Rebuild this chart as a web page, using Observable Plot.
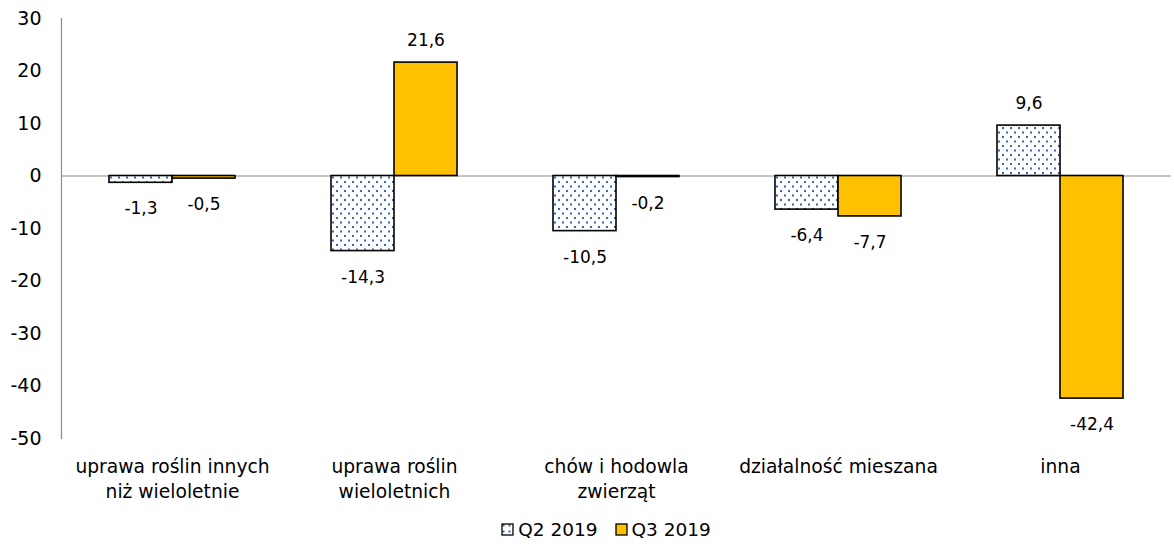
<!DOCTYPE html>
<html>
<head>
<meta charset="utf-8">
<script src="https://cdn.jsdelivr.net/npm/d3@7"></script>
<script src="https://cdn.jsdelivr.net/npm/@observablehq/plot@0.6"></script>
<style>
  body { margin: 0; background: #fff; font-family: Tahoma, "DejaVu Sans", sans-serif; }
  #legend { display: flex; justify-content: center; align-items: center; gap: 17px; font-size: 18.5px; height: 30px; color: #000; padding-left: 38px; box-sizing: border-box; width: 1174px; }
  #legend .item { display: flex; align-items: center; gap: 4px; }
</style>
</head>
<body>
<svg width="0" height="0" style="position:absolute">
  <defs>
    <pattern id="dots" width="8" height="9" patternUnits="userSpaceOnUse">
      <rect width="8" height="9" fill="#fff"/>
      <rect x="1" y="1" width="2" height="2" fill="#3a66b0"/>
      <rect x="5" y="5.5" width="2" height="2" fill="#3a66b0"/>
    </pattern>
    <pattern id="dotsSmall" width="6" height="6" patternUnits="userSpaceOnUse">
      <rect width="6" height="6" fill="#fff"/>
      <rect x="1.5" y="1.5" width="2" height="2" fill="#3a66b0"/>
    </pattern>
  </defs>
</svg>
<div id="chart"></div>
<div id="legend"></div>
<script>
const categories = [
  "uprawa roślin innych\nniż wieloletnie",
  "uprawa roślin\nwieloletnich",
  "chów i hodowla\nzwierząt",
  "działalność mieszana",
  "inna"
];
const series = ["Q2 2019", "Q3 2019"];
const q2Values = [-1.3, -14.3, -10.5, -6.4, 9.6];
const q3Values = [-0.5, 21.6, -0.2, -7.7, -42.4];
const yTicks = [-50, -40, -30, -20, -10, 0, 10, 20, 30];
const seriesFills = ["url(#dots)", "#FFC000"];

const rows = categories.flatMap((c, i) => [
  {cat: c, series: series[0], value: q2Values[i]},
  {cat: c, series: series[1], value: q3Values[i]}
]);
const fmt = v => v.toFixed(1).replace(".", ",");

const chart = Plot.plot({
  width: 1174,
  height: 514,
  marginLeft: 60,
  marginRight: 2,
  marginTop: 18,
  marginBottom: 76,
  style: {fontFamily: "Tahoma, 'DejaVu Sans', sans-serif", fontSize: "17px", color: "#000", background: "#fff"},
  fx: {domain: categories, padding: 0, label: null},
  x: {domain: series, paddingInner: 0, paddingOuter: 0.74, axis: null},
  y: {domain: [-50, 30], label: null},
  color: {domain: series, range: seriesFills},
  marks: [
    Plot.ruleY([0], {stroke: "#8c8c8c", strokeWidth: 1.2}),
    Plot.barY(rows, {fx: "cat", x: "series", y: "value", fill: "series", stroke: "#000", strokeWidth: 1.6}),
    Plot.text(rows.filter(d => d.value >= 0), {fx: "cat", x: "series", y: "value", text: d => fmt(d.value), dy: -22, fontSize: 17}),
    Plot.text(rows.filter(d => d.value < 0), {fx: "cat", x: "series", y: "value", text: d => fmt(d.value), dy: 26, fontSize: 17}),
    Plot.axisY({ticks: yTicks, tickSize: 0, tickPadding: 20, tickFormat: d => String(d), fontSize: 19, label: null}),
    Plot.axisFx({anchor: "bottom", tickSize: 0, tickPadding: 17, fontSize: 18.7, lineHeight: 1.34, label: null}),
    Plot.frame({anchor: "left", facetAnchor: "left", stroke: "#8c8c8c", strokeWidth: 1.2})
  ]
});
document.getElementById("chart").appendChild(chart);

const legend = document.getElementById("legend");
series.forEach((s, i) => {
  const item = document.createElement("div");
  item.className = "item";
  item.innerHTML = `<svg width="13" height="13"><rect x="1" y="1" width="11" height="11" fill="${i === 0 ? "url(#dotsSmall)" : seriesFills[i]}" stroke="#000" stroke-width="1.3"/></svg><span>${s}</span>`;
  legend.appendChild(item);
});
</script>
</body>
</html>
